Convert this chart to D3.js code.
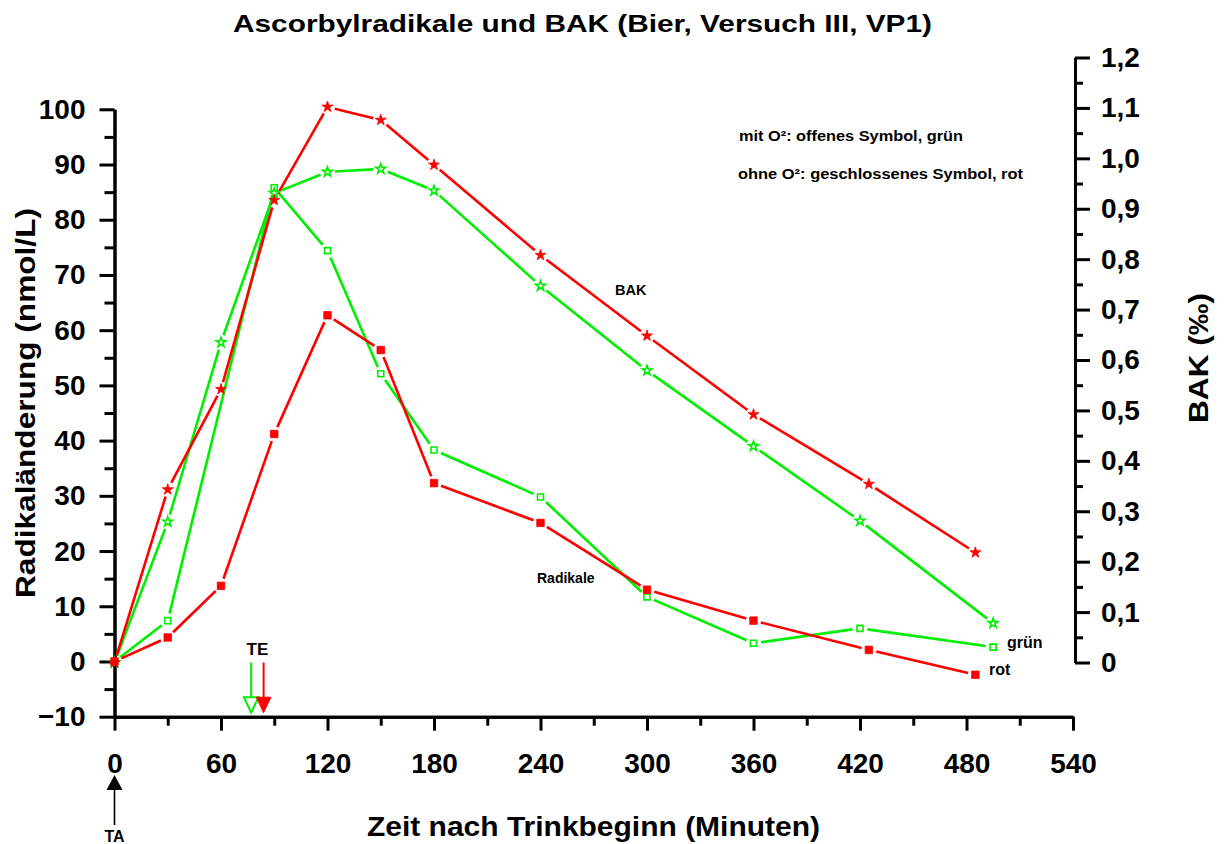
<!DOCTYPE html>
<html>
<head>
<meta charset="utf-8">
<script src="https://cdn.jsdelivr.net/npm/d3@7"></script>
<style>
  body { margin: 0; background: #fff; }
  text { font-family: "Liberation Sans", Arial, sans-serif; font-weight: bold; fill: #000; }
</style>
</head>
<body>
<svg id="chart" width="1227" height="844"></svg>
<script>
// Tick values
const xTicks = [0, 60, 120, 180, 240, 300, 360, 420, 480, 540];
const xMinorTicks = [30, 90, 150, 210, 270, 330, 390, 450, 510];
const leftTicks = [-10, 0, 10, 20, 30, 40, 50, 60, 70, 80, 90, 100];
const leftMinorTicks = [-5, 5, 15, 25, 35, 45, 55, 65, 75, 85, 95];
const rightTicks = [0, 0.1, 0.2, 0.3, 0.4, 0.5, 0.6, 0.7, 0.8, 0.9, 1.0, 1.1, 1.2];
const rightTickLabels = ["0", "0,1", "0,2", "0,3", "0,4", "0,5", "0,6", "0,7", "0,8", "0,9", "1,0", "1,1", "1,2"];
const rightMinorTicks = [0.05, 0.15, 0.25, 0.35, 0.45, 0.55, 0.65, 0.75, 0.85, 0.95, 1.05, 1.15];

// Sampling times (minutes after start of drinking)
const timesRot = [0, 30, 60, 90, 120, 150, 180, 240, 300, 360, 425, 485];
const timesGruen = [0, 30, 60, 90, 120, 150, 180, 240, 300, 360, 420, 495];
const timesGruenRadikale = [0, 30, 90, 120, 150, 180, 240, 300, 360, 420, 495];

// BAK (‰), right axis
const bakRot = [0, 0.343, 0.542, 0.917, 1.102, 1.076, 0.987, 0.808, 0.648, 0.492, 0.354, 0.218];
const bakGruen = [0, 0.279, 0.635, 0.931, 0.973, 0.979, 0.936, 0.747, 0.579, 0.429, 0.281, 0.078];

// Radical change (nmol/L), left axis
const radikaleRot = [0, 4.35, 13.7, 41.2, 62.7, 56.4, 32.3, 25.1, 13.0, 7.4, 2.1, -2.4];
const radikaleGruen = [0, 7.4, 85.8, 74.4, 52.1, 38.3, 29.8, 11.7, 3.3, 6.0, 2.6];

// Start (TA) and end (TE) of drinking
const trinkAnfang = 0;
const trinkEndeGruen = 77;
const trinkEndeRot = 84;

const RED = "#ff0000";
const GREEN = "#00ee00";

const svg = d3.select("#chart");

const x = d3.scaleLinear().domain([0, 540]).range([114.5, 1073]);
const yL = d3.scaleLinear().domain([-10, 100]).range([716.7, 109.3]);
const yR = d3.scaleLinear().domain([0, 1.2]).range([662.5, 57.5]);

function styleAxis(g) {
  g.select(".domain").style("stroke", "#000").style("stroke-width", "3px");
  g.selectAll(".tick line").style("stroke", "#000").style("stroke-width", "3px");
  g.selectAll(".tick text").attr("font-size", 28).attr("font-weight", "bold")
    .attr("font-family", '"Liberation Sans", Arial, sans-serif').attr("fill", "#000");
}

// Left axis
svg.append("g").attr("transform", `translate(${x(0)},0)`)
  .call(d3.axisLeft(yL).tickValues(leftMinorTicks).tickSize(10).tickSizeOuter(0).tickFormat(""))
  .call(styleAxis);
svg.append("g").attr("transform", `translate(${x(0)},0)`)
  .call(d3.axisLeft(yL).tickValues(leftTicks).tickSize(15).tickSizeOuter(0).tickPadding(14).tickFormat(d3.format("d")))
  .call(styleAxis);

// Bottom axis
svg.append("g").attr("transform", `translate(0,${yL(-10)})`)
  .call(d3.axisBottom(x).tickValues(xMinorTicks).tickSize(9).tickSizeOuter(0).tickFormat(""))
  .call(styleAxis);
svg.append("g").attr("transform", `translate(0,${yL(-10)})`)
  .call(d3.axisBottom(x).tickValues(xTicks).tickSize(14).tickSizeOuter(0).tickPadding(22).tickFormat(d3.format("d")))
  .call(styleAxis);

// Right axis
const rightX = 1075;
svg.append("g").attr("transform", `translate(${rightX},0)`)
  .call(d3.axisRight(yR).tickValues(rightMinorTicks).tickSize(8).tickSizeOuter(0).tickFormat(""))
  .call(styleAxis);
svg.append("g").attr("transform", `translate(${rightX},0)`)
  .call(d3.axisRight(yR).tickValues(rightTicks).tickSize(15).tickSizeOuter(0).tickPadding(11)
    .tickFormat((d, i) => rightTickLabels[i]))
  .call(styleAxis);

// Polylines with small gaps next to each marker
function gappedSegments(pts, gap) {
  const segs = [];
  for (let i = 0; i < pts.length - 1; i++) {
    const [x1, y1] = pts[i], [x2, y2] = pts[i + 1];
    const dx = x2 - x1, dy = y2 - y1, len = Math.hypot(dx, dy);
    if (len <= 2 * gap) continue;
    const ux = dx / len, uy = dy / len;
    segs.push([[x1 + ux * gap, y1 + uy * gap], [x2 - ux * gap, y2 - uy * gap]]);
  }
  return segs;
}

const series = [
  { t: timesGruenRadikale, v: radikaleGruen, y: yL, color: GREEN, symbol: "square", filled: false },
  { t: timesGruen, v: bakGruen, y: yR, color: GREEN, symbol: "star", filled: false },
  { t: timesRot, v: radikaleRot, y: yL, color: RED, symbol: "square", filled: true },
  { t: timesRot, v: bakRot, y: yR, color: RED, symbol: "star", filled: true }
];

const lineLayer = svg.append("g");
const markerLayer = svg.append("g");

series.forEach(s => {
  const pts = s.t.map((t, i) => [x(t), s.y(s.v[i])]);
  lineLayer.selectAll(null).data(gappedSegments(pts, 7.5)).enter().append("line")
    .attr("x1", d => d[0][0]).attr("y1", d => d[0][1])
    .attr("x2", d => d[1][0]).attr("y2", d => d[1][1])
    .attr("stroke", s.color).attr("stroke-width", 2.6);

  const sym = s.symbol === "star"
    ? d3.symbol().type(d3.symbolStar).size(s.filled ? 38 : 30)
    : d3.symbol().type(d3.symbolSquare).size(s.filled ? 56 : 36);
  markerLayer.selectAll(null).data(pts).enter().append("path")
    .attr("d", sym())
    .attr("transform", d => `translate(${d[0]},${d[1]})`)
    .attr("fill", s.filled ? s.color : "#fff")
    .attr("stroke", s.color)
    .attr("stroke-width", s.filled ? 0.8 : 1.6);
});

// Title
svg.append("text").attr("x", 582.5).attr("y", 32).attr("text-anchor", "middle")
  .attr("font-size", 24).attr("textLength", 699).attr("lengthAdjust", "spacingAndGlyphs")
  .text("Ascorbylradikale und BAK (Bier, Versuch III, VP1)");

// Axis titles
svg.append("text").attr("transform", "translate(35,403) rotate(-90)").attr("text-anchor", "middle")
  .attr("font-size", 27).attr("textLength", 390).attr("lengthAdjust", "spacingAndGlyphs")
  .text("Radikaländerung (nmol/L)");
svg.append("text").attr("transform", "translate(1208,358) rotate(-90)").attr("text-anchor", "middle")
  .attr("font-size", 27).attr("textLength", 130).attr("lengthAdjust", "spacingAndGlyphs")
  .text("BAK (‰)");
svg.append("text").attr("x", 593.5).attr("y", 836).attr("text-anchor", "middle")
  .attr("font-size", 27).attr("textLength", 453).attr("lengthAdjust", "spacingAndGlyphs")
  .text("Zeit nach Trinkbeginn (Minuten)");

// Legend notes
svg.append("text").attr("x", 739).attr("y", 140.5).attr("font-size", 14)
  .attr("textLength", 224).attr("lengthAdjust", "spacingAndGlyphs")
  .text("mit O²: offenes Symbol, grün");
svg.append("text").attr("x", 738).attr("y", 178.5).attr("font-size", 14)
  .attr("textLength", 285).attr("lengthAdjust", "spacingAndGlyphs")
  .text("ohne O²: geschlossenes Symbol, rot");

// Curve labels
svg.append("text").attr("x", 615).attr("y", 295).attr("font-size", 14.5).text("BAK");
svg.append("text").attr("x", 537).attr("y", 583).attr("font-size", 14).text("Radikale");
svg.append("text").attr("x", 1007).attr("y", 648).attr("font-size", 16).text("grün");
svg.append("text").attr("x", 989).attr("y", 675).attr("font-size", 16).text("rot");

// Drinking end markers (TE)
function downArrow(t, color, filled) {
  const cx = x(t);
  const top = yL(0) + 1, base = yL(-10) - 19.5, tip = yL(-10) - 4;
  svg.append("line").attr("x1", cx).attr("x2", cx).attr("y1", top).attr("y2", base)
    .attr("stroke", color).attr("stroke-width", 2);
  svg.append("path")
    .attr("d", `M${cx - 7.3},${base} L${cx + 7.3},${base} L${cx},${tip} Z`)
    .attr("fill", filled ? color : "#fff").attr("stroke", color).attr("stroke-width", filled ? 1 : 2);
}
downArrow(trinkEndeGruen, GREEN, false);
downArrow(trinkEndeRot, RED, true);
svg.append("text").attr("x", (x(trinkEndeGruen) + x(trinkEndeRot)) / 2).attr("y", 654.5)
  .attr("text-anchor", "middle").attr("font-size", 17).text("TE");

// Drinking start marker (TA)
{
  const cx = x(trinkAnfang);
  svg.append("path").attr("d", `M${cx - 8},790 L${cx + 8},790 L${cx},775 Z`).attr("fill", "#000");
  svg.append("line").attr("x1", cx).attr("x2", cx).attr("y1", 789).attr("y2", 825)
    .attr("stroke", "#000").attr("stroke-width", 1.6);
  svg.append("text").attr("x", cx).attr("y", 842).attr("text-anchor", "middle")
    .attr("font-size", 16).text("TA");
}
</script>
</body>
</html>
